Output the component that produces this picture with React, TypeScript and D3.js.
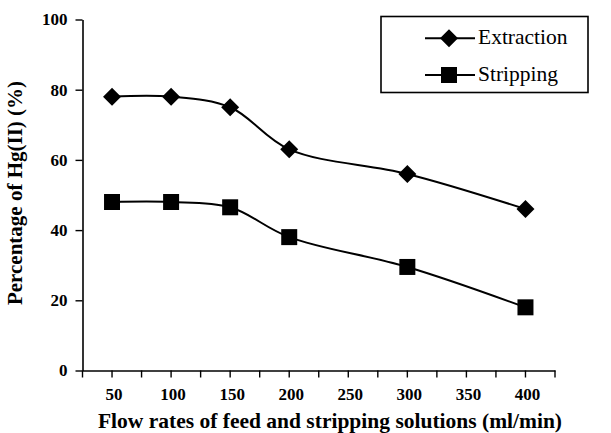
import React, { useEffect, useRef } from "react";
import * as d3 from "d3";

// Flow rate categories (ml/min) shown on the x axis
const categories = [50, 100, 150, 200, 250, 300, 350, 400];
// Measured flow rates
const flowRates = [50, 100, 150, 200, 300, 400];
// Percentage of Hg(II) for each process
const extraction = [78, 78, 75, 63, 56, 46];
const stripping = [48, 48, 46.5, 38, 29.5, 18];
const yTicks = [0, 20, 40, 60, 80, 100];

const W = 611;
const H = 433;
const FONT = "Liberation Serif";

export default function App() {
  const ref = useRef<SVGSVGElement>(null);

  useEffect(() => {
    const svg = d3.select(ref.current);
    svg.selectAll("*").remove();

    const left = 82.5;
    const right = 555;
    const top = 19.5;
    const bottom = 370.5;

    const x = d3
      .scaleBand<number>()
      .domain(categories)
      .range([left, right])
      .paddingInner(0)
      .paddingOuter(0);
    const cx = (v: number) => (x(v) as number) + x.bandwidth() / 2;
    const y = d3.scaleLinear().domain([0, 100]).range([bottom, top]);

    // Y axis
    const yAxis = svg
      .append("g")
      .attr("transform", `translate(${left},0)`)
      .call(
        d3
          .axisLeft(y)
          .tickValues(yTicks)
          .tickSize(7)
          .tickSizeOuter(0)
          .tickPadding(8)
      );
    yAxis.attr("font-family", FONT);
    yAxis.select(".domain").attr("stroke", "#000").attr("stroke-width", 1.6);
    yAxis.selectAll(".tick line").attr("stroke", "#000").attr("stroke-width", 1.4);
    yAxis
      .selectAll(".tick text")
      .attr("font-weight", "bold")
      .attr("font-size", 17)
      .attr("fill", "#000");

    // X axis with ticks at category centres
    const xAxis = svg
      .append("g")
      .attr("transform", `translate(0,${bottom})`)
      .call(d3.axisBottom(x).tickSize(7).tickSizeOuter(0).tickPadding(10));
    xAxis.attr("font-family", FONT);
    xAxis.select(".domain").attr("stroke", "#000").attr("stroke-width", 1.6);
    xAxis.selectAll(".tick line").attr("stroke", "#000").attr("stroke-width", 1.4);
    xAxis
      .selectAll(".tick text")
      .attr("font-weight", "bold")
      .attr("font-size", 17)
      .attr("fill", "#000")
      .attr("dx", 2);

    // Extra ticks at category boundaries
    const bounds = categories.map((c) => x(c) as number).concat([right]);
    svg
      .append("g")
      .selectAll("line")
      .data(bounds)
      .join("line")
      .attr("x1", (d) => d)
      .attr("x2", (d) => d)
      .attr("y1", bottom)
      .attr("y2", bottom + 7)
      .attr("stroke", "#000")
      .attr("stroke-width", 1.4);

    // Axis titles
    svg
      .append("text")
      .attr("x", 330)
      .attr("y", 428)
      .attr("text-anchor", "middle")
      .attr("font-family", FONT)
      .attr("font-weight", "bold")
      .attr("font-size", 21.5)
      .text("Flow rates of feed and stripping solutions (ml/min)");

    svg
      .append("text")
      .attr("transform", `translate(22,${(top + bottom) / 2 - 2}) rotate(-90)`)
      .attr("text-anchor", "middle")
      .attr("font-family", FONT)
      .attr("font-weight", "bold")
      .attr("font-size", 21)
      .text("Percentage of Hg(II) (%)");

    // Series lines
    const line = d3
      .line<[number, number]>()
      .x((d) => cx(d[0]))
      .y((d) => y(d[1]))
      .curve(d3.curveCatmullRom.alpha(0.5));

    const series = [
      { name: "Extraction", values: extraction, shape: "diamond" },
      { name: "Stripping", values: stripping, shape: "square" },
    ];

    const diamond = (r: number) => `M0,${-r}L${r},0L0,${r}L${-r},0Z`;
    const square = (r: number) => `M${-r},${-r}H${r}V${r}H${-r}Z`;
    const marker = (shape: string) => (shape === "diamond" ? diamond(9) : square(8));

    series.forEach((s) => {
      const pts: [number, number][] = flowRates.map((f, i) => [f, s.values[i]]);
      svg
        .append("path")
        .attr("d", line(pts))
        .attr("fill", "none")
        .attr("stroke", "#000")
        .attr("stroke-width", 2);
      svg
        .append("g")
        .selectAll("path")
        .data(pts)
        .join("path")
        .attr("transform", (d) => `translate(${cx(d[0])},${y(d[1])})`)
        .attr("d", marker(s.shape))
        .attr("fill", "#000");
    });

    // Legend
    const lg = svg.append("g").attr("font-family", FONT);
    lg.append("rect")
      .attr("x", 381)
      .attr("y", 16.5)
      .attr("width", 207)
      .attr("height", 76)
      .attr("fill", "#fff")
      .attr("stroke", "#000")
      .attr("stroke-width", 1.6);
    const rows = [38.3, 75];
    series.forEach((s, i) => {
      const ry = rows[i];
      lg.append("line")
        .attr("x1", 425)
        .attr("x2", 475)
        .attr("y1", ry)
        .attr("y2", ry)
        .attr("stroke", "#000")
        .attr("stroke-width", 2);
      lg.append("path")
        .attr("transform", `translate(449,${ry})`)
        .attr("d", marker(s.shape))
        .attr("fill", "#000");
      lg.append("text")
        .attr("x", 478)
        .attr("y", ry + 6)
        .attr("font-size", 21.5)
        .attr("fill", "#000")
        .text(s.name);
    });
  }, []);

  return (
    <svg
      ref={ref}
      width={W}
      height={H}
      style={{ position: "absolute", left: 0, top: 0, background: "#fff" }}
    />
  );
}
